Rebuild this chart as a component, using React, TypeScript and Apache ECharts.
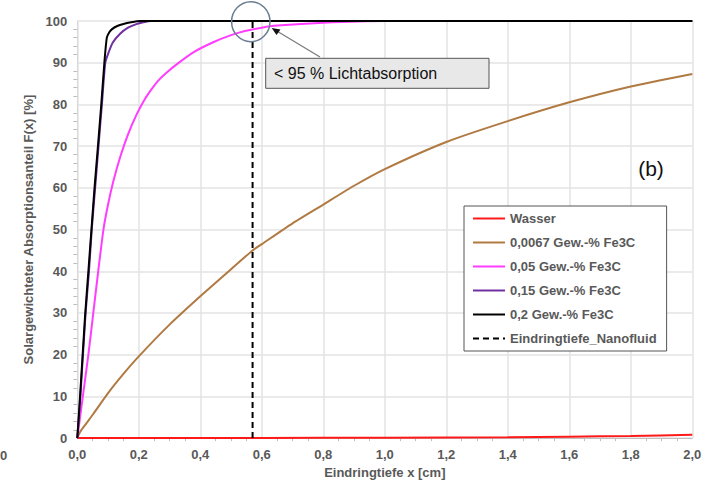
import React, { useEffect, useRef } from "react";
import * as echarts from "echarts";

const xTicks = [0, 0.2, 0.4, 0.6, 0.8, 1.0, 1.2, 1.4, 1.6, 1.8, 2.0];

const wasser: [number, number][] = [
  [0, 0], [0.6, 0.05], [1.0, 0.1], [1.4, 0.2], [1.6, 0.35], [1.8, 0.5], [2.0, 0.8],
];
const fe0067: [number, number][] = [
  [0, 0], [0.01, 1.6], [0.03, 3.6], [0.05, 5.6], [0.1, 10.8], [0.15, 15.4], [0.2, 19.6],
  [0.3, 27.2], [0.4, 34], [0.5, 40.5], [0.57, 45], [0.6, 46.5], [0.7, 51.5], [0.8, 56],
  [0.9, 60.5], [1.0, 64.5], [1.2, 71], [1.4, 76], [1.6, 80.5], [1.8, 84.3], [2.0, 87.3],
];
const fe005: [number, number][] = [
  [0, 0], [0.018, 10], [0.036, 20], [0.052, 30], [0.068, 40],
  [0.085, 50], [0.1, 56], [0.117, 61.5], [0.14, 67.5], [0.165, 72.8], [0.193, 77.6],
  [0.22, 81.3], [0.247, 84.2], [0.267, 86], [0.29, 87.6], [0.323, 89.6], [0.38, 92.6],
  [0.442, 94.9], [0.5, 96.6], [0.545, 97.6], [0.6, 98.4], [0.65, 98.9], [0.8, 99.6],
  [1.0, 100], [2.0, 100],
];
const fe015: [number, number][] = [
  [0, 0], [0.01, 10], [0.027, 30], [0.038, 40], [0.047, 50], [0.058, 60],
  [0.069, 70], [0.08, 80], [0.091, 90], [0.101, 92.3], [0.115, 94.8], [0.14, 97],
  [0.165, 98.4], [0.19, 99.2], [0.215, 99.7], [0.24, 100], [2.0, 100],
];
const fe02: [number, number][] = [
  [0, 0], [0.009, 10], [0.025, 29], [0.036, 40], [0.046, 50], [0.056, 60],
  [0.066, 69], [0.078, 80], [0.088, 90], [0.096, 96], [0.104, 97.3], [0.112, 98],
  [0.13, 98.8], [0.15, 99.3], [0.175, 99.7], [0.204, 100], [2.0, 100],
];
const eindringtiefe: [number, number][] = [[0.57, 0], [0.57, 100]];

const seriesNames = [
  "Wasser",
  "0,0067 Gew.-% Fe3C",
  "0,05 Gew.-% Fe3C",
  "0,15 Gew.-% Fe3C",
  "0,2 Gew.-% Fe3C",
  "Eindringtiefe_Nanofluid",
];
const seriesData = [wasser, fe0067, fe005, fe015, fe02, eindringtiefe];
const seriesColors = ["#ff1a1a", "#b07a42", "#ff3dff", "#7030a0", "#000000", "#000000"];

const annotationText = "< 95 % Lichtabsorption";
const panelLabel = "(b)";

export default function App() {
  const ref = useRef<HTMLDivElement>(null);
  useEffect(() => {
    if (!ref.current) return;
    const chart = echarts.init(ref.current, undefined, { renderer: "svg" });
    const labelColor = "#595959";
    chart.setOption({
      animation: false,
      backgroundColor: "#ffffff",
      grid: { left: 77.3, right: 20.7, top: 21, bottom: 45.7, containLabel: false },
      xAxis: {
        type: "value",
        min: 0,
        max: 2,
        interval: 0.2,
        name: "Eindringtiefe x [cm]",
        nameLocation: "middle",
        nameGap: 27,
        nameTextStyle: { fontFamily: "Liberation Sans", fontWeight: "bold", fontSize: 13, color: labelColor },
        axisLine: { show: true, lineStyle: { color: "#bfbfbf", width: 1 } },
        axisTick: { show: false },
        minorTick: { show: true, splitNumber: 4, length: 3, lineStyle: { color: "#bfbfbf" } },
        splitLine: { show: true, lineStyle: { color: "#e3e3e3", width: 1.5 } },
        axisLabel: {
          margin: 10,
          fontFamily: "Liberation Sans",
          fontWeight: "bold",
          fontSize: 13,
          color: labelColor,
          formatter: (v: number) => v.toFixed(1).replace(".", ","),
        },
      },
      yAxis: {
        type: "value",
        min: 0,
        max: 100,
        interval: 10,
        name: "Solargewichteter Absorptionsanteil F(x) [%]",
        nameLocation: "middle",
        nameGap: 40,
        nameTextStyle: { fontFamily: "Liberation Sans", fontWeight: "bold", fontSize: 13, color: labelColor },
        axisLine: { show: true, lineStyle: { color: "#d9d9d9", width: 1 } },
        axisTick: { show: false },
        minorTick: { show: true, splitNumber: 5, length: 4, lineStyle: { color: "#bfbfbf" } },
        splitLine: { show: true, lineStyle: { color: "#e3e3e3", width: 1.5 } },
        axisLabel: {
          margin: 10,
          fontFamily: "Liberation Sans",
          fontWeight: "bold",
          fontSize: 13,
          color: labelColor,
        },
      },
      legend: {
        orient: "vertical",
        left: 464,
        top: 206,
        itemWidth: 32,
        itemHeight: 14,
        itemGap: 11,
        padding: [6, 10, 6, 8],
        backgroundColor: "#ffffff",
        borderColor: "#555555",
        borderWidth: 1,
        itemStyle: { opacity: 0 },
        textStyle: { fontFamily: "Liberation Sans", fontWeight: "bold", fontSize: 13, color: labelColor },
        data: seriesNames,
      },
      series: seriesNames.map((name, i) => ({
        name,
        type: "line",
        data: seriesData[i],
        symbol: "none",
        showSymbol: false,
        smooth: i === 5 ? false : 0.2,
        clip: true,
        z: 2 + i,
        lineStyle: {
          color: seriesColors[i],
          width: 2,
          type: i === 5 ? [6, 4] : "solid",
        },
        itemStyle: { color: seriesColors[i] },
      })),
      graphic: [
        {
          type: "ellipse",
          shape: { cx: 250.8, cy: 21.7, rx: 19.2, ry: 20 },
          style: { fill: "none", stroke: "#6b7d92", lineWidth: 1.5 },
          z: 100,
        },
        {
          type: "line",
          shape: { x1: 320, y1: 57, x2: 276, y2: 30.5 },
          style: { stroke: "#7a7a7a", lineWidth: 1.2 },
          z: 100,
        },
        {
          type: "polygon",
          shape: { points: [[271.7, 28], [280.5, 29.5], [276.5, 35]] },
          style: { fill: "#111111" },
          z: 100,
        },
        {
          type: "rect",
          shape: { x: 265.7, y: 58.3, width: 223.3, height: 30 },
          style: { fill: "#e8e8e8", stroke: "#555555", lineWidth: 1 },
          z: 100,
        },
        {
          type: "text",
          x: 274,
          y: 73.5,
          style: {
            text: annotationText,
            fontFamily: "Liberation Sans",
            fontSize: 16,
            fill: "#111111",
            textAlign: "left",
            textVerticalAlign: "middle",
          },
          z: 101,
        },
        {
          type: "text",
          x: 651,
          y: 168,
          style: {
            text: panelLabel,
            fontFamily: "Liberation Sans",
            fontSize: 21,
            fill: "#111111",
            textAlign: "center",
            textVerticalAlign: "middle",
          },
          z: 101,
        },
        {
          type: "text",
          x: 0,
          y: 455,
          style: {
            text: "0",
            fontFamily: "Liberation Sans",
            fontWeight: "bold",
            fontSize: 13,
            fill: labelColor,
            textAlign: "left",
            textVerticalAlign: "middle",
          },
          z: 101,
        },
      ],
    });
    return () => chart.dispose();
  }, []);
  return <div ref={ref} style={{ width: 713, height: 484, position: "absolute", left: 0, top: 0 }} />;
}
